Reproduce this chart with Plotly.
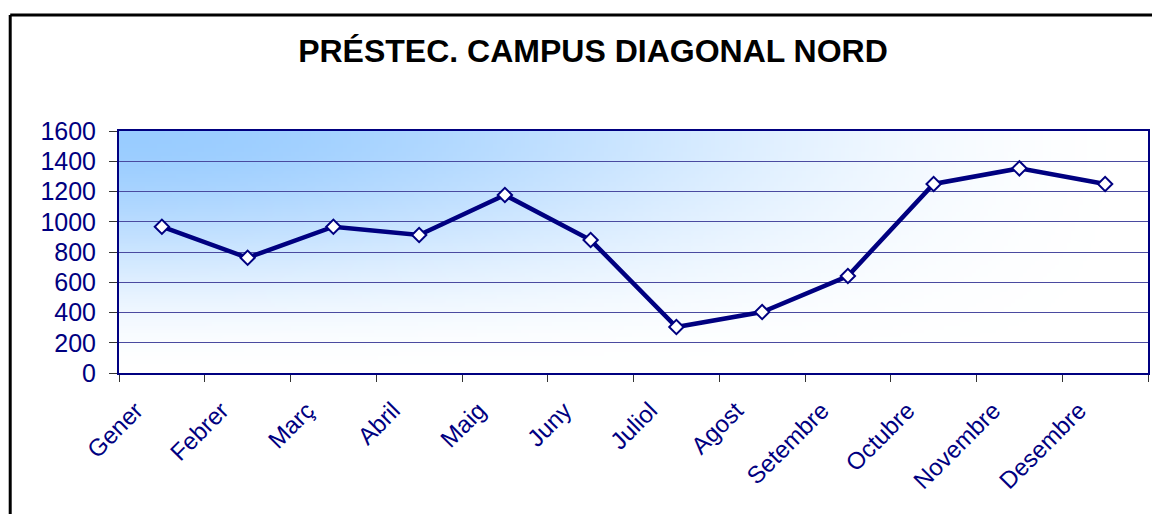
import zlib, struct, base64
import numpy as np
import plotly.graph_objects as go

months = ["Gener", "Febrer", "Març", "Abril", "Maig", "Juny", "Juliol",
          "Agost", "Setembre", "Octubre", "Novembre", "Desembre"]
prestecs = [967, 762, 967, 912, 1177, 879, 304, 403, 641, 1250, 1353, 1250]
y_ticks = [0, 200, 400, 600, 800, 1000, 1200, 1400, 1600]

NAVY = "#000080"
FONT = "Liberation Sans, Arial, sans-serif"

# ---- gradient background image (top-left blue fading to white) ----
def gradient_uri(w=260, h=64, base=(153, 204, 255)):
    u = np.linspace(0, 1, w)[None, :]
    v = np.linspace(0, 1, h)[:, None]
    sm = lambda t: t * t * (3 - 2 * t)
    inten = (1 - sm(u)) * (1 - sm(v))
    img = np.zeros((h, w, 3))
    for c in range(3):
        img[:, :, c] = 255 - inten * (255 - base[c])
    img = np.clip(np.round(img), 0, 255).astype(np.uint8)
    raw = b"".join(b"\x00" + img[r].tobytes() for r in range(h))

    def chunk(t, d):
        return struct.pack(">I", len(d)) + t + d + struct.pack(">I", zlib.crc32(t + d) & 0xffffffff)

    png = (b"\x89PNG\r\n\x1a\n"
           + chunk(b"IHDR", struct.pack(">IIBBBBB", w, h, 8, 2, 0, 0, 0))
           + chunk(b"IDAT", zlib.compress(raw, 9))
           + chunk(b"IEND", b""))
    return "data:image/png;base64," + base64.b64encode(png).decode()

# page body has an 8px margin, so the figure is 1152x506
W, H = 1152, 506
L, R, T, B = 111, 10, 123, 141
pw, ph = W - L - R, H - T - B

fig = go.Figure()
fig.add_trace(go.Scatter(
    x=months, y=prestecs, mode="lines+markers",
    line=dict(color=NAVY, width=4.5),
    marker=dict(symbol="diamond", size=11, color="white",
                line=dict(color=NAVY, width=2)),
    hoverinfo="x+y", showlegend=False,
))

# outer chart frame (left and top edges visible)
fx = (2 - L) / pw
fy = (H - B - 7) / ph
fig.add_shape(type="line", xref="paper", yref="paper", x0=fx, x1=fx, y0=-1.0, y1=fy,
              line=dict(color="black", width=3))
fig.add_shape(type="line", xref="paper", yref="paper", x0=fx, x1=1.2, y0=fy, y1=fy,
              line=dict(color="black", width=3))

fig.update_layout(
    width=W, height=H,
    margin=dict(l=L, r=R, t=T, b=B),
    paper_bgcolor="white",
    plot_bgcolor="white",
    font=dict(family=FONT, color=NAVY, size=24),
    title=dict(text="<b>PRÉSTEC. CAMPUS DIAGONAL NORD</b>",
               font=dict(family=FONT, color="black", size=32),
               x=585 / W, xanchor="center", xref="container",
               y=1 - 43 / H, yanchor="middle", yref="container"),
    images=[dict(source=gradient_uri(), xref="paper", yref="paper",
                 x=0, y=1, sizex=1, sizey=1, sizing="stretch",
                 layer="below")],
    xaxis=dict(
        type="category", range=[-0.5, 11.5],
        tickson="boundaries", ticks="outside", ticklen=7, tickcolor="#333333",
        tickwidth=1, tickangle=-45,
        ticklabelshift=-26, ticklabelstandoff=12,
        tickfont=dict(family=FONT, color=NAVY, size=24),
        showgrid=False, zeroline=False,
        showline=True, mirror=True, linecolor=NAVY, linewidth=2,
    ),
    yaxis=dict(
        range=[0, 1600], tickvals=y_ticks,
        ticks="outside", ticklen=8, tickcolor="#333333", tickwidth=1,
        tickfont=dict(family=FONT, color=NAVY, size=25),
        ticklabelstandoff=8,
        showgrid=True, gridcolor="#4a4aa0", gridwidth=1,
        zeroline=False,
        showline=True, mirror=True, linecolor=NAVY, linewidth=2,
    ),
)

fig.write_html("out.html")
